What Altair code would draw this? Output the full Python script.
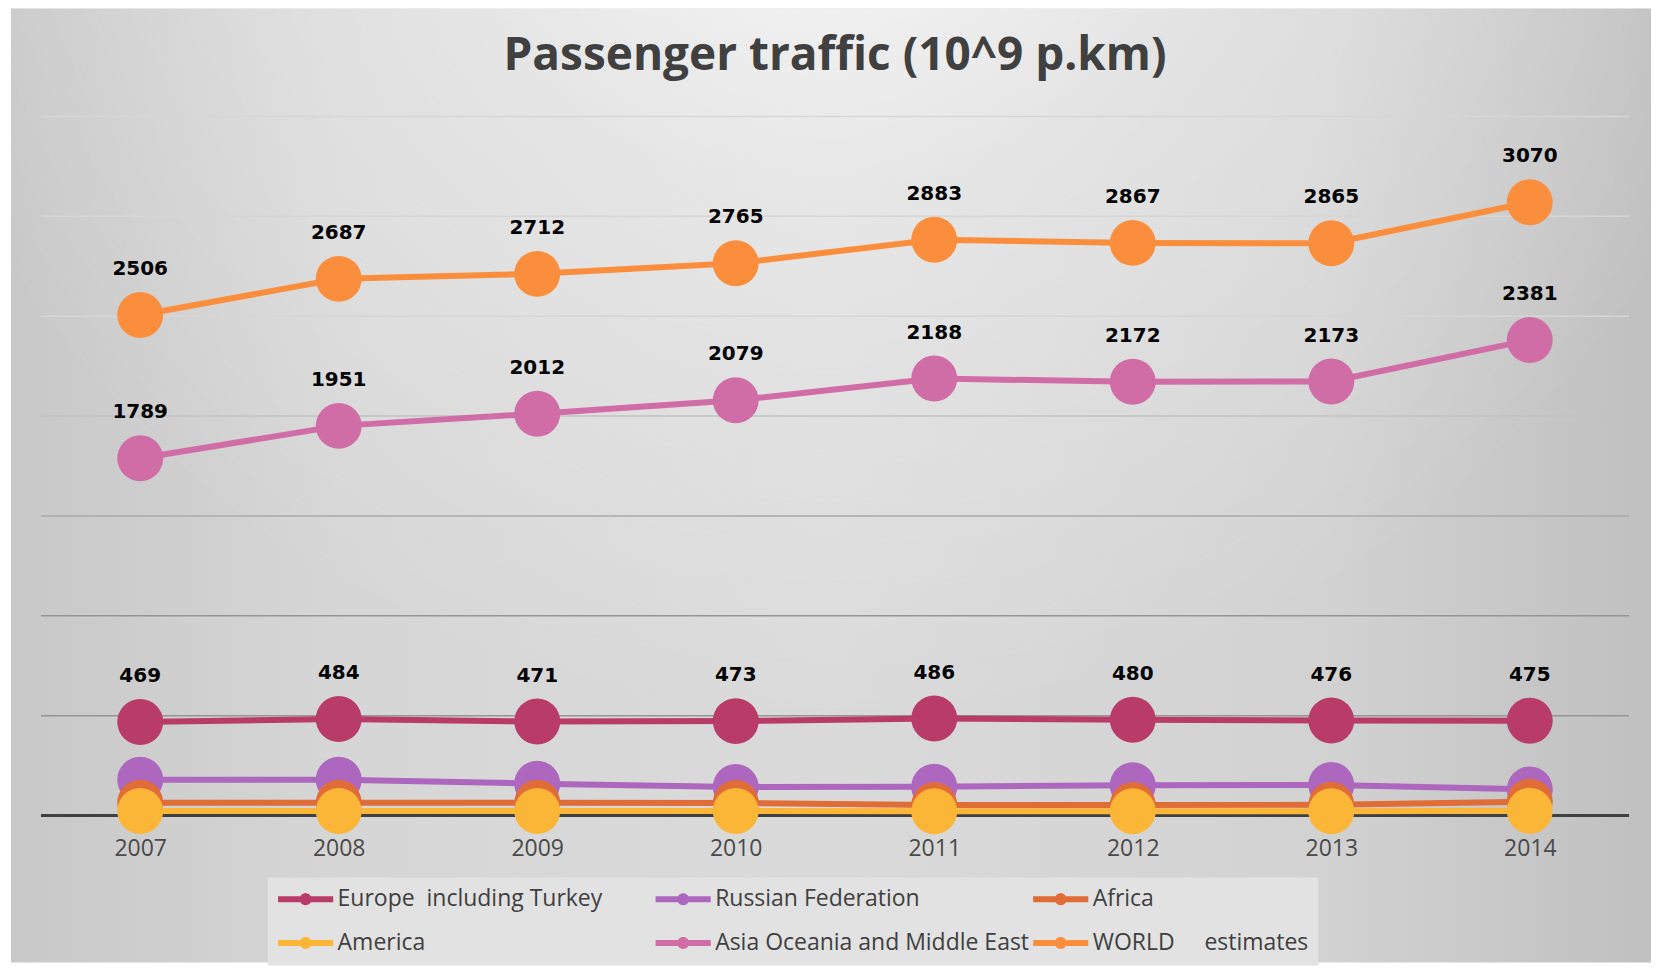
import altair as alt
import pandas as pd

# ---------------- data ----------------
years = ["2007", "2008", "2009", "2010", "2011", "2012", "2013", "2014"]

series_names = [
    "Europe\u00a0\u00a0including Turkey",
    "Russian Federation",
    "Africa",
    "America",
    "Asia Oceania and Middle East",
    "WORLD\u00a0\u00a0\u00a0\u00a0\u00a0estimates",
]

europe = [469, 484, 471, 473, 486, 480, 476, 475]
russia = [180, 180, 160, 143, 145, 152, 153, 131]
africa = [64, 64, 64, 63, 53, 53, 54, 70]
america = [23, 23, 23, 23, 22, 22, 22, 24]
asia = [1789, 1951, 2012, 2079, 2188, 2172, 2173, 2381]
world = [2506, 2687, 2712, 2765, 2883, 2867, 2865, 3070]

series_colors = ["#B93B67", "#AD67BE", "#E06C37", "#FBB638", "#D06DA6", "#FB8E3D"]
labelled_series = [series_names[0], series_names[4], series_names[5]]

grid_values = [0, 500, 1000, 1500, 2000, 2500, 3000, 3500]

title_text = "Passenger traffic (10^9 p.km)"

rows = []
for name, vals in zip(series_names, [europe, russia, africa, america, asia, world]):
    for yr, v in zip(years, vals):
        rows.append({"Year": yr, "Series": name, "Value": v})
df = pd.DataFrame(rows)
grid_df = pd.DataFrame({"v": grid_values})

W, H = 1590, 700

# ---------------- scales / encodings ----------------
x_enc = alt.X(
    "Year:O",
    sort=years,
    scale=alt.Scale(type="point", padding=0.5),
    axis=alt.Axis(
        title=None, labelAngle=0, domain=False, ticks=False, tickSize=0, grid=False,
        labelFont="Open Sans", labelFontSize=23, labelColor="#4a4a4a", labelPadding=22,
        zindex=1,
    ),
)
y_scale = alt.Scale(domain=[0, 3500], nice=False, zero=True)
y_enc = alt.Y("Value:Q", scale=y_scale, axis=None)

legend_symbol = (
    "M-4.6,-0.5 L4.6,-0.5 L4.6,0.5 L-4.6,0.5 Z "
    "M-1,0 A1,1 0 1,1 1,0 A1,1 0 1,1 -1,0 Z"
)

color_enc = alt.Color(
    "Series:N",
    sort=series_names,
    scale=alt.Scale(domain=series_names, range=series_colors),
    legend=alt.Legend(
        title=None, orient="none", legendX=227, legendY=762, columns=3,
        direction="horizontal", gridAlign="all",
        symbolType=legend_symbol, symbolSize=144, symbolStrokeWidth=0,
        symbolOpacity=1, symbolOffset=16.5,
        labelFont="Open Sans", labelFontSize=23, labelColor="#404040", labelLimit=0,
        labelOffset=20.5, fillColor="#e2e2e2", padding=10, rowPadding=20,
        columnPadding=3,
    ),
)

# ---------------- background ----------------
bg_data = alt.Data(values=[{"bg": 1}])
bg_lin = alt.Chart(bg_data).mark_rect(
    color=alt.LinearGradient(
        gradient="linear", x1=0, x2=1, y1=0, y2=0,
        stops=[
            alt.GradientStop(color="#c8c8c8", offset=0),
            alt.GradientStop(color="#d6d6d6", offset=0.2),
            alt.GradientStop(color="#dadada", offset=0.5),
            alt.GradientStop(color="#d2d2d2", offset=0.8),
            alt.GradientStop(color="#c0c0c0", offset=1),
        ],
    )
).encode(x=alt.value(-30), x2=alt.value(1612), y=alt.value(-108), y2=alt.value(847))

bg_rad = alt.Chart(bg_data).mark_rect(
    color=alt.RadialGradient(
        gradient="radial", x1=0.5, y1=0.05, r1=0, x2=0.5, y2=0.05, r2=0.6,
        stops=[
            alt.GradientStop(color="rgba(255,255,255,0.95)", offset=0),
            alt.GradientStop(color="rgba(255,255,255,0.35)", offset=0.45),
            alt.GradientStop(color="rgba(255,255,255,0)", offset=1),
        ],
    )
).encode(x=alt.value(-30), x2=alt.value(1612), y=alt.value(-108), y2=alt.value(847))

# ---------------- grid & baseline ----------------
gy = alt.Y("v:Q", scale=y_scale, axis=None)
grid_light = alt.Chart(grid_df).transform_filter("datum.v >= 2500").mark_rule(
    color="#d6d6d6", strokeWidth=1.5).encode(y=gy)
grid_2000 = alt.Chart(grid_df).transform_filter("datum.v == 2000").mark_rule(
    color="#c2c2c2", strokeWidth=1.5).encode(y=gy)
grid_1500 = alt.Chart(grid_df).transform_filter("datum.v == 1500").mark_rule(
    color="#aaaaaa", strokeWidth=1.5).encode(y=gy)
grid_dark = alt.Chart(grid_df).transform_filter("datum.v > 0 && datum.v <= 1000").mark_rule(
    color="#959595", strokeWidth=1.5).encode(y=gy)
baseline = alt.Chart(grid_df).transform_filter("datum.v == 0").mark_rule(
    color="#404040", strokeWidth=3).encode(y=gy)

# ---------------- data marks ----------------
base = alt.Chart(df)
lines = base.mark_line(strokeWidth=6).encode(x=x_enc, y=y_enc, color=color_enc)
points = base.mark_point(filled=True, opacity=1, size=2116, shape="circle").encode(
    x=x_enc, y=y_enc, color=color_enc)
labels = base.transform_filter(
    alt.FieldOneOfPredicate(field="Series", oneOf=labelled_series)
).mark_text(
    font="DejaVu Sans", fontWeight="bold", fontSize=20, color="#000000",
    dy=-46, baseline="middle", align="center",
).encode(x=x_enc, y=y_enc, text="Value:Q")

chart = alt.layer(
    bg_lin, bg_rad, grid_light, grid_2000, grid_1500, grid_dark, baseline,
    lines, points, labels,
).properties(
    width=W, height=H,
    padding={"left": 3, "top": 0, "right": 0, "bottom": 0},
    background="#ffffff",
    title=alt.TitleParams(
        text=title_text, font="Open Sans", fontSize=46, fontWeight="bold",
        color="#404040", anchor="middle", frame="group", offset=-71,
    ),
).configure_view(stroke=None)

chart.save("out.html", embed_options={"renderer": "svg", "actions": False})
